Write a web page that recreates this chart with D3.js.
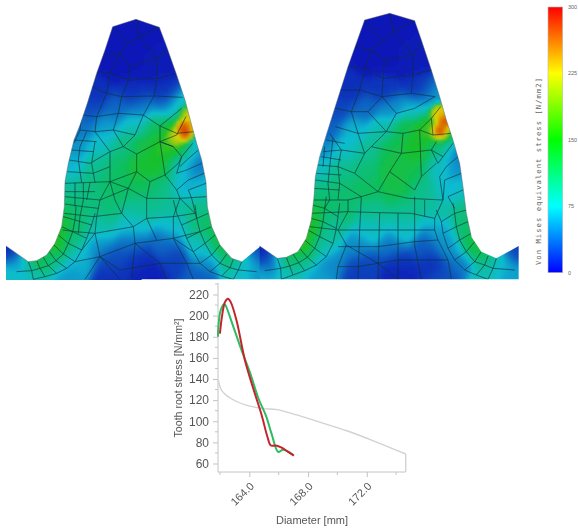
<!DOCTYPE html>
<html>
<head>
<meta charset="utf-8">
<script src="https://cdn.jsdelivr.net/npm/d3@7"></script>
<style>
html, body { margin: 0; padding: 0; background: #fff; }
svg { display: block; }
text { font-family: "Liberation Sans", Arial, sans-serif; }
</style>
</head>
<body>
<div id="chart"></div>
<script>
// Tooth root stress line chart
const greenDia = [161.87, 161.9, 162.05, 162.3, 162.41, 162.9, 163.48, 164.05, 164.61, 165.14, 165.52, 165.97, 166.3, 167.0];
const greenStress = [180, 190, 205, 211, 209, 190, 167, 146, 122, 105, 88, 71, 73, 68];
const redDia = [162.0, 162.16, 162.35, 162.55, 162.73, 163.14, 163.7, 164.27, 164.84, 165.22, 165.47, 165.8, 166.2, 166.65, 167.04];
const redStress = [183, 201, 213, 216, 213, 195, 158, 131, 106, 86, 77, 77, 75, 71, 67.5];
const grayDia = [161.89, 162.13, 162.7, 163.84, 164.97, 165.88, 167.24, 169.05, 170.64, 172.45, 174.65];
const grayStress = [139, 129, 122, 115, 112, 111, 106, 98, 91, 81.5, 69];
const yMajor = [60, 80, 100, 120, 140, 160, 180, 200, 220];
const yMinor = [70, 90, 110, 130, 150, 170, 190, 210, 230];
const xMajor = [164, 168, 172];
const xMinor = [162, 166, 170, 174];

// Colour bar
const barTicks = [0, 75, 150, 225, 300];
const barColors = ["#0000ff", "#00ffff", "#00ff00", "#ffff00", "#ff0000"];
const fieldTicks = [0, 65, 140, 225, 300];
const fieldColors = ["#0808b4", "#08bcd0", "#14c02c", "#e0d000", "#d81800"];

// Tooth outlines, [x, y, ...] in tooth picture units (3 units = 1px)
const leftOutline = [18,840,18,738,85,785,110,782,140,765,165,730,185,680,193,620,195,545,205,490,222,420,240,375,262,310,290,220,315,150,338,80,408,58,478,82,500,140,530,225,555,300,575,375,590,430,605,480,618,545,622,620,635,680,660,735,695,775,725,785,780,740,780,838,425,838,425,840];
const rightOutline = [5,838,5,738,58,775,85,772,120,755,145,715,160,660,168,590,172,530,185,470,205,405,235,310,270,200,295,130,320,60,395,40,470,62,490,120,520,210,545,290,565,360,585,420,605,490,615,560,625,640,640,710,670,755,715,775,782,738,782,838];

// Stress samples, [x, y, N/mm2]
const leftStress = [
  [408,100,4],[350,200,6],[410,200,6],[480,200,8],[290,280,14],[400,280,14],[500,280,14],
  [270,330,24],[350,330,34],[420,330,42],[500,330,40],[545,315,75],[245,380,38],[320,380,55],
  [400,380,78],[470,380,115],[520,380,165],[555,378,295],[575,375,230],[565,345,235],[550,345,90],
  [550,400,300],[530,412,215],[230,440,50],[300,440,72],[370,440,100],[430,440,130],[490,440,152],
  [540,440,155],[580,440,55],[210,500,62],[290,500,94],[350,500,115],[420,500,138],[480,500,142],
  [540,500,72],[590,500,40],[200,560,88],[270,560,102],[340,560,116],[420,560,120],[490,560,102],
  [550,560,60],[610,560,64],[195,620,115],[240,620,106],[320,620,105],[420,620,92],[520,620,92],
  [610,620,97],[185,680,148],[230,680,106],[300,680,86],[400,680,70],[520,680,68],[600,680,102],
  [635,680,128],[165,730,165],[210,730,95],[300,730,50],[400,730,35],[500,730,35],[600,730,72],
  [660,730,135],[110,782,140],[160,780,95],[240,780,60],[330,780,25],[420,780,14],[520,780,20],
  [620,780,52],[700,775,110],[30,830,72],[100,830,72],[200,830,52],[330,830,14],[450,830,8],
  [600,830,30],[720,830,72],[770,830,50],[25,750,12],[60,790,50],[775,755,22],[740,790,62]
];
const rightStress = [
  [395,80,4],[340,180,6],[400,180,6],[470,180,8],[275,270,14],[375,270,16],[490,270,14],
  [240,330,22],[320,330,34],[400,330,48],[480,330,62],[525,290,55],[210,390,32],[290,390,62],
  [370,390,82],[440,390,125],[500,380,148],[545,340,235],[560,365,285],[545,395,300],[525,385,175],
  [570,395,150],[540,425,130],[190,450,48],[260,450,70],[330,450,92],[400,450,125],[480,450,145],
  [540,450,92],[585,450,38],[175,510,72],[250,510,96],[320,510,106],[400,510,130],[470,510,125],
  [540,510,72],[600,510,48],[170,570,102],[250,570,110],[330,570,118],[420,570,128],[500,570,96],
  [570,570,62],[612,570,72],[165,630,128],[240,630,110],[340,630,95],[440,630,95],[540,630,86],
  [622,630,102],[155,680,150],[220,680,90],[340,690,74],[440,690,74],[540,690,56],[630,690,112],
  [130,740,165],[190,740,85],[300,740,48],[400,740,40],[500,740,30],[570,740,50],[650,740,135],
  [85,775,125],[130,780,90],[220,790,45],[320,790,22],[420,790,14],[520,790,14],[610,790,40],
  [690,770,112],[20,830,60],[90,830,72],[180,830,55],[300,830,18],[420,830,10],[560,830,25],
  [680,830,78],[760,830,55],[15,750,8],[40,785,25],[770,750,20],[725,790,62]
];

// Mesh lines as flat x, y lists
const leftMesh = [
  [338,80,385,130,418,110,478,82],[408,58,418,110,470,175,505,150],[385,130,358,160,390,200,470,175],
  [358,160,308,170],[358,160,330,220,288,215],[390,200,385,240,330,220],[470,175,472,235,385,240],
  [472,235,528,220],[330,220,320,280,270,258],[385,240,365,290,320,280],[472,235,462,288,365,290],
  [462,288,548,292],[320,280,290,350,245,345],[365,290,355,340,290,350],[462,288,430,345,355,340],
  [430,345,480,378,545,325],[355,340,340,390,405,405,430,345],[290,350,285,395,340,390],[240,390,285,395],
  [340,390,370,440,330,455,285,395],[405,405,370,440,410,462,480,425,480,378],[480,425,530,405,558,350],
  [480,378,530,400,582,395],[410,462,410,515,330,545,330,455],[410,515,450,545,495,525,535,490],
  [480,425,495,525],[330,545,385,565,410,515],[385,565,440,595,450,545],[195,550,250,548,330,545],
  [195,590,300,600,385,565],[440,595,540,595,620,590],[440,595,440,655,400,680,365,640,385,565],
  [193,640,280,650,365,640],[440,655,520,650,585,640],[300,600,290,650,285,700,300,770,255,838],
  [285,700,400,680],[188,690,225,695,285,700],[400,680,405,730,395,838],[300,770,405,730,520,715,600,695],
  [520,650,520,715,560,790,580,838],[300,770,360,838],[405,730,480,790,500,838],[540,595,520,650],
  [222,420,290,425],[213,450,280,455],[208,480,270,490,330,455],[203,515,280,520,330,500],
  [260,395,240,440,235,480,245,548],[285,425,275,490,285,548],[250,548,250,600],[300,600,330,545],
  [578,430,545,470,530,520],[595,450,560,480,540,500],[605,490,560,510,530,520],[612,520,565,540,530,570,540,595],
  [618,550,565,570,575,595],[535,490,545,470,520,440,480,425],[495,525,530,570],
  [245,345,240,390],[240,390,222,430],[225,548,225,620],[270,548,260,600],[250,600,240,650,235,700],
  [195,575,285,575],[195,612,250,620,295,625],[330,545,345,600,365,640],[470,720,440,655],[540,595,585,640],
  [520,600,530,640],[575,595,590,655],[300,770,360,810,480,790,560,790],[225,785,300,770],[245,750,285,700],
  [580,755,520,715],[600,790,560,790],[480,425,520,440],
  [85,785,95,812,100,838],[110,782,120,805,135,830],[130,772,145,797,170,820],[148,755,168,782,200,805],
  [162,735,190,762,225,785],[175,705,205,730,245,750],[185,680,218,695,260,715],[190,650,225,660,275,675],
  [50,815,95,812,120,805,145,797,168,782,190,762,205,730,218,695,225,660,228,620],
  [100,838,135,830,170,820,200,805,225,785,245,750,260,715,275,675,285,640],
  [725,785,715,810,700,838],[700,778,690,803,665,828],[680,762,660,790,630,815],[660,735,635,765,600,790],
  [645,705,615,730,580,755],[635,680,600,695,560,715],[625,640,590,655,545,675],
  [770,815,715,810,690,803,660,790,635,765,615,730,600,695,590,655,585,615],
  [700,838,665,828,630,815,600,790,580,755,560,715,545,675,530,640]
];
const rightMesh = [
  [320,60,375,125,405,95,470,62],[395,40,405,95,465,165,490,125],[375,125,340,150,380,180,465,165],
  [340,150,292,140],[340,150,320,205,268,200],[380,180,375,235,320,205],[465,165,465,225,375,235],
  [465,225,520,210],[320,205,305,270,245,270],[375,235,372,290,305,270],[465,225,460,280,372,290],
  [460,280,532,290],[305,270,280,335,232,325],[372,290,330,335,280,335],[372,290,415,340,470,325,530,290],
  [280,335,300,400,385,395,415,340],[330,335,385,395],[232,380,300,400],[215,400,250,450,320,460,300,400],
  [385,395,435,400,430,460],[435,400,485,390,520,355,548,320],[485,390,525,405,580,400],[385,395,340,440,320,460],
  [340,440,430,460,520,450,535,425],[430,460,395,515,360,575,290,520,320,460],[395,515,470,570,490,530,535,490],
  [485,390,490,530],[520,450,540,490],[195,455,250,450],[180,495,240,500,290,520],[172,540,245,550,310,590],
  [168,600,270,600,310,590,360,575],[360,575,450,595,555,600],[160,640,270,635,365,638,460,640,530,655],
  [155,680,240,690,360,690,530,690],[240,740,360,740,470,725,540,720],[270,600,270,635,240,690,265,735,240,800,235,838],
  [310,590,305,690,300,838],[365,638,360,838],[420,640,420,838],[470,590,470,735,490,838],[555,600,530,655,530,690],
  [225,415,215,500,210,550,215,600],[200,440,195,500],[530,690,540,720,570,780,580,838],[265,735,360,790,420,838],
  [585,430,555,470,540,490],[600,470,565,500,545,530],[610,520,560,540,555,600],[615,570,570,590,590,625],
  [205,420,260,430],[190,470,250,480],[175,520,250,525],[168,565,245,570],[245,550,240,600],[215,600,200,625],
  [240,500,245,550],[250,450,240,500],[555,470,520,450],[545,530,555,600],[520,355,525,405],
  [240,800,300,800,360,790],[360,790,420,780,490,780,570,780],[500,600,500,650],
  [58,775,68,805,70,838],[85,772,95,798,105,825],[105,762,122,788,140,812],[125,745,148,772,175,795],
  [140,720,170,745,205,770],[150,690,185,710,225,730],[158,655,195,665,235,685],[163,615,200,625,240,650],
  [20,812,68,805,95,798,122,788,148,772,170,745,185,710,195,665,200,625,205,590],
  [70,838,105,825,140,812,175,795,205,770,225,730,235,685,240,650,245,610],
  [715,775,705,805,690,838],[690,768,680,795,655,825],[670,755,650,785,620,810],[650,725,625,755,590,780],
  [640,700,605,720,570,745],[630,665,595,680,555,700],[625,630,590,640,550,665],
  [770,810,705,805,680,795,650,785,625,755,605,720,595,680,590,640,585,610],
  [690,838,655,825,620,810,590,780,570,745,555,700,550,665,535,630]
];

const width = 578;
const height = 529;

const svg = d3.select("#chart")
    .append("svg")
    .attr("width", width)
    .attr("height", height);

const defs = svg.append("defs");
defs.append("filter").attr("id", "fieldBlur")
    .attr("x", "-5%").attr("y", "-5%").attr("width", "110%").attr("height", "110%")
    .append("feGaussianBlur").attr("stdDeviation", 1.2);
defs.append("filter").attr("id", "soft")
    .attr("x", "-5%").attr("y", "-5%").attr("width", "110%").attr("height", "110%")
    .append("feGaussianBlur").attr("stdDeviation", 0.4);

// Picture units to pixels for the teeth
const toothX = d3.scaleLinear().domain([0, 795]).range([0, 265]);
const toothY = d3.scaleLinear().domain([0, 855]).range([0, 285]);
const fieldColor = d3.scaleLinear().domain(fieldTicks).range(fieldColors);

function toPoints(flat) {
    return d3.range(0, flat.length, 2).map(i => [flat[i], flat[i + 1]]);
}

const toothLine = d3.line().x(d => toothX(d[0])).y(d => toothY(d[1]));

// Smooth the samples with a small gaussian kernel, much tighter and stronger at the hot spot
function stressAt(samples, x, y) {
    let sum = 0, weight = 0;
    for (const s of samples) {
        const dist = (x - s[0]) ** 2 + (y - s[1]) ** 2;
        const w = s[2] >= 200
            ? 8 * Math.exp(-dist / 280)
            : Math.exp(-dist / 1300) + 1e-9;
        sum += w * s[2];
        weight += w;
    }
    return sum / weight;
}

function drawTooth(id, originX, outline, samples, mesh) {
    const g = svg.append("g").attr("transform", `translate(${originX},0)`);
    const pts = toPoints(outline);

    defs.append("clipPath").attr("id", id)
        .append("path").attr("d", toothLine(pts) + "Z");

    const cells = [];
    d3.range(0, 795, 9).forEach(x => d3.range(30, 850, 9).forEach(y => {
        cells.push({x, y, v: stressAt(samples, x + 4.5, y + 4.5)});
    }));

    g.append("g").attr("clip-path", `url(#${id})`)
        .append("g").attr("filter", "url(#fieldBlur)")
        .selectAll("rect")
        .data(cells)
        .enter()
        .append("rect")
        .attr("x", d => toothX(d.x))
        .attr("y", d => toothY(d.y))
        .attr("width", toothX(9) + 0.5)
        .attr("height", toothX(9) + 0.5)
        .attr("fill", d => fieldColor(d.v));

    const lines = g.append("g")
        .attr("clip-path", `url(#${id})`)
        .append("g")
        .attr("filter", "url(#soft)");

    lines.selectAll("path")
        .data(mesh)
        .enter()
        .append("path")
        .attr("d", d => toothLine(toPoints(d)))
        .attr("fill", "none")
        .attr("stroke", "#123038")
        .attr("stroke-width", 0.8)
        .attr("stroke-opacity", 0.8);

    // Outline
    g.append("path")
        .attr("d", toothLine(pts.slice(1, -4)))
        .attr("fill", "none")
        .attr("stroke", "#5a6070")
        .attr("stroke-width", 0.8)
        .attr("stroke-opacity", 0.6)
        .attr("filter", "url(#soft)");
}

drawTooth("toothLeft", 0, leftOutline, leftStress, leftMesh);
drawTooth("toothRight", 258, rightOutline, rightStress, rightMesh);

// Colour bar
const barScale = d3.scaleLinear().domain([0, 300]).range([272.7, 7]);
const gradient = defs.append("linearGradient")
    .attr("id", "barGradient")
    .attr("x1", 0).attr("x2", 0).attr("y1", 1).attr("y2", 0);
gradient.selectAll("stop")
    .data(barTicks)
    .enter()
    .append("stop")
    .attr("offset", (d, i) => i / (barTicks.length - 1))
    .attr("stop-color", (d, i) => barColors[i]);

svg.append("rect")
    .attr("x", 548)
    .attr("y", barScale(300))
    .attr("width", 14.7)
    .attr("height", barScale(0) - barScale(300))
    .attr("fill", "url(#barGradient)")
    .attr("stroke", "#bbb")
    .attr("stroke-width", 0.6);

svg.append("g").selectAll("text")
    .data(barTicks)
    .enter()
    .append("text")
    .attr("x", 568)
    .attr("y", d => barScale(d) + 2)
    .attr("font-size", 5.5)
    .attr("fill", "#666")
    .text(d => d);

svg.append("text")
    .attr("transform", "translate(541,171) rotate(-90)")
    .attr("text-anchor", "middle")
    .attr("font-size", 7.2)
    .attr("letter-spacing", 1.05)
    .attr("fill", "#666")
    .style("font-family", "'DejaVu Sans Mono', monospace")
    .text("Von Mises equivalent stress [N/mm2]");

// Line chart
const xScale = d3.scaleLinear().domain([161.87, 174.65]).range([218, 405.7]);
const yScale = d3.scaleLinear().domain([60, 220]).range([463.5, 294.5]);
const axisY = 472;
const tickColor = "#c4c4c4";
const labelColor = "#555";

const plot = svg.append("g").attr("filter", "url(#soft)");

const yAxis = plot.append("g").attr("transform", "translate(218,0)");
yAxis.call(d3.axisLeft(yScale).tickValues(yMajor).tickSize(5).tickFormat(d3.format("d")));
yAxis.select(".domain").attr("d", `M0,${yScale(231)}V${axisY}`).attr("stroke", tickColor);
yAxis.selectAll(".tick line").attr("stroke", tickColor);
yAxis.selectAll(".tick text")
    .attr("font-size", 12)
    .attr("font-family", null)
    .attr("fill", labelColor)
    .attr("x", -9);
yAxis.selectAll(".minor")
    .data(yMinor.filter(d => d < 231))
    .enter()
    .append("line")
    .attr("class", "minor")
    .attr("x1", -3)
    .attr("x2", 0)
    .attr("y1", d => yScale(d))
    .attr("y2", d => yScale(d))
    .attr("stroke", tickColor);

const xAxis = plot.append("g").attr("transform", `translate(0,${axisY})`);
xAxis.call(d3.axisBottom(xScale).tickValues(xMajor).tickSize(5).tickFormat(d3.format(".1f")));
xAxis.select(".domain").attr("d", `M218,0H405.7`).attr("stroke", tickColor);
xAxis.selectAll(".tick line").attr("stroke", tickColor);
xAxis.selectAll(".tick text")
    .attr("font-size", 11)
    .attr("font-family", null)
    .attr("fill", labelColor)
    .attr("text-anchor", "end")
    .attr("dy", null)
    .attr("x", -7)
    .attr("y", 14)
    .attr("transform", "rotate(-45)");
xAxis.selectAll(".minor")
    .data(xMinor)
    .enter()
    .append("line")
    .attr("class", "minor")
    .attr("y1", 0)
    .attr("y2", 3)
    .attr("x1", d => xScale(d))
    .attr("x2", d => xScale(d))
    .attr("stroke", tickColor);

plot.append("text")
    .attr("transform", "translate(182,378) rotate(-90)")
    .attr("text-anchor", "middle")
    .attr("font-size", 10.6)
    .attr("fill", labelColor)
    .text("Tooth root stress [N/mm²]");

plot.append("text")
    .attr("x", 312)
    .attr("y", 524)
    .attr("text-anchor", "middle")
    .attr("font-size", 11)
    .attr("fill", labelColor)
    .text("Diameter [mm]");

const curve = d3.line()
    .x(d => xScale(d[0]))
    .y(d => yScale(d[1]))
    .curve(d3.curveCatmullRom);

plot.append("path")
    .attr("d", curve(d3.zip(grayDia, grayStress)))
    .attr("fill", "none")
    .attr("stroke", "#d2d2d2")
    .attr("stroke-width", 1.4);

// Gray curve drops to the axis at its end
plot.append("line")
    .attr("x1", xScale(grayDia[grayDia.length - 1]))
    .attr("x2", xScale(grayDia[grayDia.length - 1]))
    .attr("y1", yScale(grayStress[grayStress.length - 1]))
    .attr("y2", axisY)
    .attr("stroke", "#d2d2d2")
    .attr("stroke-width", 1.4);

plot.append("path")
    .attr("d", curve(d3.zip(greenDia, greenStress)))
    .attr("fill", "none")
    .attr("stroke", "#2dbb62")
    .attr("stroke-width", 2);

plot.append("path")
    .attr("d", curve(d3.zip(redDia, redStress)))
    .attr("fill", "none")
    .attr("stroke", "#c2262c")
    .attr("stroke-width", 2);
</script>
</body>
</html>
